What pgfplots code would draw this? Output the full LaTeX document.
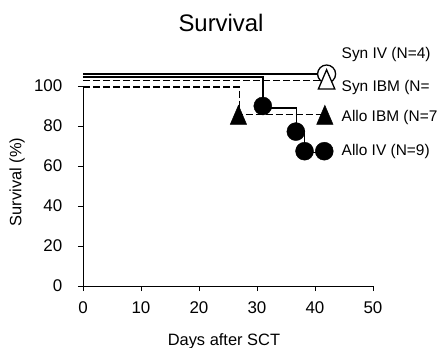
\documentclass[border=0pt]{standalone}
\usepackage{pgfplots}
\pgfplotsset{compat=1.18}
\usepackage{fontspec}
\setmainfont{Liberation Sans}
\begin{document}
\fontsize{16.5}{19}\selectfont
\begin{tikzpicture}
\begin{axis}[name=ax, at={(0,0)}, anchor=south west, scale only axis,
  width=290bp, height=200bp,
  xmin=0, xmax=50, ymin=0, ymax=100,
  axis lines=left, axis line style={-, line width=0.8pt},
  xtick={0,10,...,50}, ytick={0,20,...,100},
  tick align=outside, major tick length=5bp,
  tick style={line width=0.8pt, black},
  /pgf/number format/assume math mode=true,
  ticklabel style={font=\fontsize{17}{20}\selectfont},
  xticklabel style={yshift=-5bp}, yticklabel style={xshift=-10bp},
  clip=false]
% Syn IV (solid)
\addplot[black, line width=1.6pt] coordinates {(0,105.9) (42,105.9)};
\addplot[only marks, mark=*, mark size=9bp, mark options={fill=white, draw=black, line width=1.3pt}] coordinates {(42,106)};
% Allo IV (solid, steps)
\addplot[black, line width=1.6pt] coordinates {(0,104.4) (31,104.4) (31,88.9) (36.8,88.9) (36.8,77.8) (38.2,77.8) (38.2,66.7) (41.6,66.7)};
\addplot[only marks, mark=*, mark size=9bp, black] coordinates {(31,90) (36.7,77.2) (38.2,67.4) (41.6,67.4)};
% Syn IBM (dashed)
\addplot[black, line width=1.6pt, dash pattern=on 7bp off 3bp] coordinates {(0,102.7) (42,102.7)};
\addplot[only marks, mark=triangle*, mark size=9.5bp, mark options={fill=white, draw=black, line width=1.3pt, yscale=1.35}] coordinates {(42,101.7)};
% Allo IBM (dashed, steps)
\addplot[black, line width=1.6pt, dash pattern=on 7bp off 3bp] coordinates {(0,99.4) (27,99.4) (27,85.7) (41.7,85.7)};
\addplot[only marks, mark=triangle*, mark size=9.5bp, mark options={fill=black, draw=black, yscale=1.35}] coordinates {(26.8,84) (41.7,84)};
% labels
\begin{scope}[font=\fontsize{15.5}{18}\selectfont]
\node[anchor=west, inner sep=1bp] at (axis cs:44.4,115.5) {Syn IV (N=4)};
\node[anchor=west, inner sep=1bp] at (axis cs:44.4,99) {Syn IBM (N=};
\node[anchor=west, inner sep=1bp] at (axis cs:44.4,84) {Allo IBM (N=7};
\node[anchor=west, inner sep=1bp] at (axis cs:44.4,67) {Allo IV (N=9)};
\end{scope}
\node[anchor=center] at ([yshift=-55bp]axis cs:24.3,0) {Days after SCT};
\node[anchor=center, rotate=90] at ([xshift=-66bp]axis cs:0,52) {Survival (\%)};
\node[anchor=center, font=\fontsize{24}{28}\selectfont] at ([yshift=63bp]axis cs:23.8,100) {Survival};
\end{axis}
\pgfresetboundingbox
\useasboundingbox (-83bp,-62bp) rectangle (357bp,286bp);
\end{tikzpicture}
\end{document}
